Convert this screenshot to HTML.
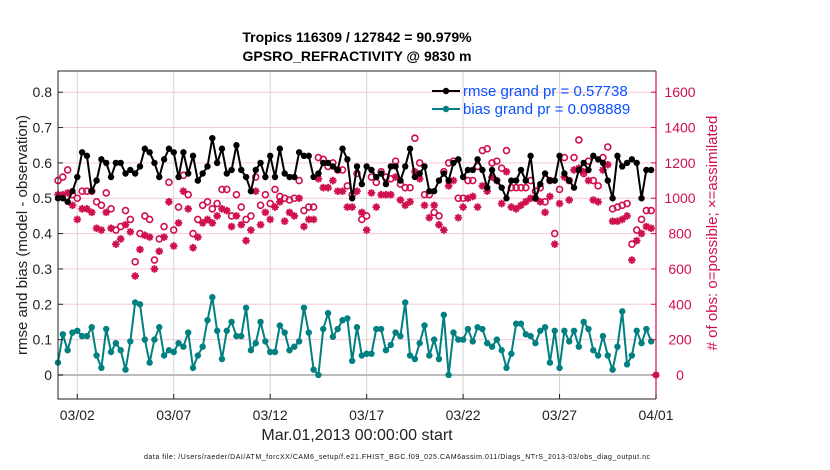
<!DOCTYPE html>
<html><head><meta charset="utf-8"><style>
body{margin:0;background:#fff;}
svg{display:block;font-family:"Liberation Sans",Arial,sans-serif;}
</style></head><body>
<svg id="chart" width="830" height="470" xmlns="http://www.w3.org/2000/svg">
<text x="357" y="42" text-anchor="middle" font-size="14" font-weight="bold">Tropics 116309 / 127842 = 90.979%</text>
<text x="357" y="61" text-anchor="middle" font-size="14" font-weight="bold">GPSRO_REFRACTIVITY @ 9830 m</text>
<g id="grid"></g>
<g id="marks"></g>
<g id="axes"></g>
<text transform="translate(27,235) rotate(-90)" text-anchor="middle" font-size="15" fill="#222">rmse and bias (model - observation)</text>
<text transform="translate(717,233) rotate(-90)" text-anchor="middle" font-size="15" fill="#d0104c"># of obs: o=possible; ×=assimilated</text>
<text x="357" y="440" text-anchor="middle" font-size="16" fill="#222">Mar.01,2013 00:00:00 start</text>
<text x="144" y="459" font-size="7" fill="#111" textLength="506">data file: /Users/raeder/DAI/ATM_forcXX/CAM6_setup/f.e21.FHIST_BGC.f09_025.CAM6assim.011/Diags_NTrS_2013-03/obs_diag_output.nc</text>
<g>
<line x1="432" y1="91" x2="460" y2="91" stroke="#000" stroke-width="2"/><circle cx="446" cy="91" r="3.2" fill="#000"/>
<text x="463" y="96" font-size="15" fill="#0a50ff">rmse grand pr = 0.57738</text>
<line x1="432" y1="109" x2="460" y2="109" stroke="#008080" stroke-width="2"/><circle cx="446" cy="109" r="3.2" fill="#008080"/>
<text x="463" y="114" font-size="15" fill="#0a50ff">bias grand pr = 0.098889</text>
</g>
</svg>
<script>
const xTickLabels=["03/02","03/07","03/12","03/17","03/22","03/27","04/01"];
const xTickDays=[1,6,11,16,21,26,31];
const yTicksLeft=[0,0.1,0.2,0.3,0.4,0.5,0.6,0.7,0.8];
const yTicksRight=[0,200,400,600,800,1000,1200,1400,1600];
const rmse=[0.50,0.50,0.49,0.52,0.56,0.63,0.62,0.52,0.55,0.61,0.60,0.56,0.60,0.60,0.57,0.58,0.57,0.59,0.64,0.63,0.60,0.56,0.61,0.64,0.63,0.56,0.63,0.57,0.62,0.55,0.57,0.59,0.67,0.60,0.64,0.57,0.58,0.65,0.58,0.56,0.52,0.58,0.60,0.56,0.62,0.56,0.64,0.57,0.56,0.56,0.63,0.62,0.62,0.56,0.57,0.60,0.60,
0.59,0.58,0.64,0.61,0.50,0.59,0.54,0.59,0.58,0.56,0.57,0.54,0.59,0.59,0.55,0.59,0.64,0.56,0.57,0.59,0.52,0.52,0.55,0.57,0.55,0.60,0.61,0.56,0.58,0.58,0.61,0.58,0.53,0.58,0.55,0.53,0.50,0.55,0.55,0.58,0.55,0.62,0.50,0.54,0.57,0.55,0.55,0.62,0.57,0.55,0.53,0.58,0.60,0.58,0.62,0.61,0.60,0.55,0.50,0.62,0.59,0.60,0.61,0.60,0.50,0.58,0.58];
const bias=[0.035,0.115,0.07,0.12,0.125,0.11,0.11,0.135,0.055,0.02,0.13,0.065,0.09,0.07,0.015,0.095,0.205,0.20,0.10,0.035,0.10,0.135,0.055,0.07,0.065,0.09,0.08,0.12,0.02,0.055,0.08,0.155,0.22,0.125,0.045,0.125,0.15,0.11,0.11,0.19,0.07,0.09,0.15,0.095,0.065,0.065,0.14,0.12,0.07,0.08,0.095,0.19,0.12,0.015,0.0,0.13,0.175,
0.108,0.13,0.155,0.16,0.04,0.135,0.055,0.06,0.06,0.13,0.13,0.07,0.085,0.12,0.11,0.205,0.055,0.045,0.09,0.14,0.055,0.10,0.045,0.17,0.0,0.12,0.10,0.10,0.13,0.095,0.135,0.13,0.09,0.08,0.10,0.07,0.02,0.06,0.145,0.145,0.115,0.11,0.09,0.125,0.135,0.035,0.125,0.02,0.125,0.095,0.125,0.08,0.15,0.13,0.07,0.055,0.11,0.055,0.015,0.08,0.18,0.03,0.055,0.125,0.09,0.13,0.095];
const nPossible=[1100,1120,1160,1020,1000,1040,1040,1040,980,960,1030,940,820,840,930,880,640,800,900,880,650,770,840,1090,820,950,1130,1020,800,880,960,980,940,970,1050,1050,900,1020,950,880,900,1120,960,1020,970,1050,1010,1000,990,1000,1100,930,950,950,1230,1220,1180,
1200,1160,1160,1070,1020,1140,880,900,1120,1090,1150,1120,1110,1210,1080,1060,1060,1340,1200,1020,1020,920,900,1150,1200,1210,1000,1000,1100,1100,1180,1270,1280,1200,1210,1170,1270,1060,1060,1060,1060,1100,1040,1060,980,1100,800,1050,1230,1100,1230,1330,1140,1210,1100,1070,1230,1290,940,950,960,970,740,820,880,930,930];
const nAssim=[1020,1020,1030,960,880,940,940,920,830,820,920,830,740,770,850,810,560,710,790,780,600,700,780,980,730,860,1040,940,720,780,860,880,860,900,940,930,840,900,850,760,820,1040,850,920,880,950,980,870,920,900,1000,840,880,880,1110,1060,1060,
1100,1040,1040,950,950,1040,920,820,1030,950,1020,1020,1020,1120,990,960,980,1150,1110,960,890,960,850,820,1070,1100,890,950,1000,1010,950,1070,1040,1120,1100,970,1150,950,940,960,980,1000,1000,980,920,1010,740,970,1120,990,1160,1170,1150,1100,990,980,1160,1190,870,870,880,900,650,760,800,840,830];
const NS='http://www.w3.org/2000/svg';
const L=58,R=656,T=71,B=399,yMin=-0.068,yMax=0.86,dMax=31;
const x=d=>L+(R-L)*d/dMax;
const y=v=>B-(B-T)*(v-yMin)/(yMax-yMin);
const yc=c=>y(c/2000);
function mk(tag,at,parent){const e=document.createElementNS(NS,tag);for(const k in at)e.setAttribute(k,at[k]);parent.appendChild(e);return e;}
const grid=document.getElementById('grid'),marks=document.getElementById('marks'),axes=document.getElementById('axes');
yTicksLeft.forEach(v=>{if(v===0)return;const g=mk('line',{x1:L,x2:R,y1:y(v),y2:y(v),stroke:'#f5c9d8','stroke-width':1},grid);

});
xTickDays.forEach(d=>{const g=mk('line',{x1:x(d),x2:x(d),y1:T,y2:B,stroke:'#d4d4d4','stroke-width':1},grid);

});
const z=mk('line',{x1:L,x2:R,y1:y(0),y2:y(0),stroke:'#bbb','stroke-width':2},grid);


const day=i=>i*0.25;
nPossible.forEach((c,i)=>{const e=mk('circle',{cx:x(day(i)),cy:yc(c),r:3.0,fill:'none',stroke:'#d0104c','stroke-width':1.6},marks);

});
nAssim.forEach((c,i)=>{const cx=x(day(i)),cy=yc(c),r=3.8;let dd='';for(let k=0;k<4;k++){const a=k*Math.PI/4;dd+=`M${cx-r*Math.cos(a)},${cy-r*Math.sin(a)}L${cx+r*Math.cos(a)},${cy+r*Math.sin(a)}`;}
const e=mk('path',{d:dd,stroke:'#d0104c','stroke-width':1.9},marks);

});
function series(vals,col,name){const p=mk('polyline',{points:vals.map((v,i)=>x(day(i))+','+y(v)).join(' '),fill:'none',stroke:col,'stroke-width':2},marks);


vals.forEach((v,i)=>{const c=mk('circle',{cx:x(day(i)),cy:y(v),r:3.2,fill:col},marks);

});}
series(rmse,'#000','rmse');
series(bias,'#008080','bias');
const rd=mk('circle',{cx:R,cy:y(0),r:3.5,fill:'#d0104c'},marks);


const fr=mk('path',{d:`M${R},${T}L${L},${T}L${L},${B}L${R},${B}`,fill:'none',stroke:'#222','stroke-width':1},axes);


const ra=mk('line',{x1:R,x2:R,y1:T,y2:B,stroke:'#d0104c','stroke-width':1.2},axes);


yTicksLeft.forEach(v=>{mk('line',{x1:L,x2:L+5,y1:y(v),y2:y(v),stroke:'#222'},axes);
const t=mk('text',{x:L-6,y:y(v)+5,'text-anchor':'end','font-size':14,fill:'#222'},axes);t.textContent=String(v);

});
yTicksRight.forEach(c=>{mk('line',{x1:R-5,x2:R,y1:yc(c),y2:yc(c),stroke:'#d0104c'},axes);
const t=mk('text',{x:680,y:yc(c)+5,'text-anchor':'middle','font-size':14,fill:'#d0104c'},axes);t.textContent=String(c);

});
xTickDays.forEach((d,i)=>{mk('line',{x1:x(d),x2:x(d),y1:B,y2:B-5,stroke:'#222'},axes);
const t=mk('text',{x:x(d),y:420,'text-anchor':'middle','font-size':14,fill:'#222'},axes);t.textContent=xTickLabels[i];

});
</script>
</body></html>
